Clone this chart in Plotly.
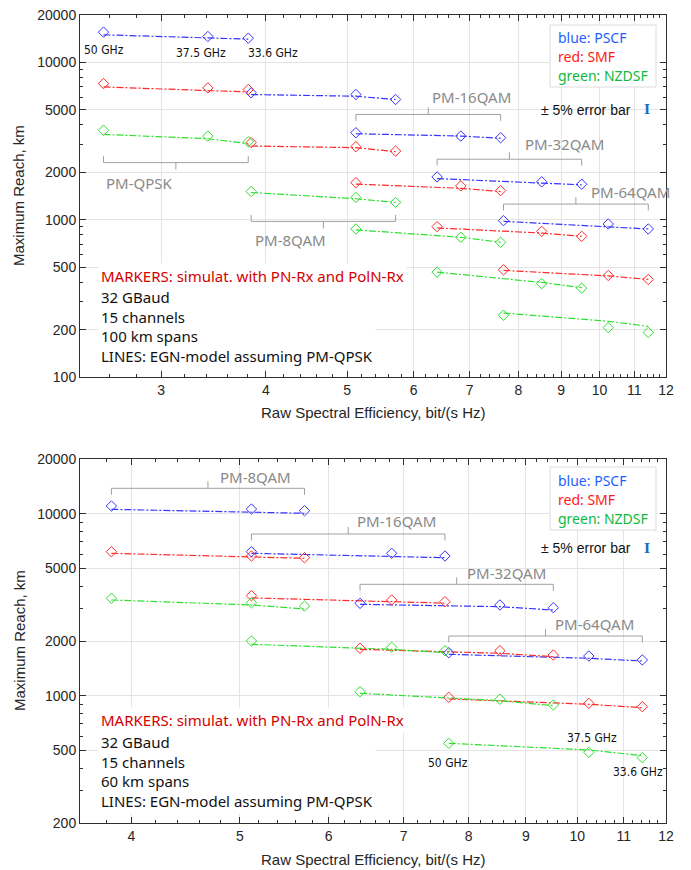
import numpy as np
import plotly.graph_objects as go

W, H = 691, 870

# ---------------- data ----------------
formats_top = ["PM-QPSK", "PM-8QAM", "PM-16QAM", "PM-32QAM", "PM-64QAM"]
formats_bot = ["PM-8QAM", "PM-16QAM", "PM-32QAM", "PM-64QAM"]

# raw spectral efficiency (bit/(s Hz)) at 50, 37.5, 33.6 GHz spacing
se_qpsk = [2.56, 3.41, 3.81]
se_8qam = [3.84, 5.12, 5.71]
se_16qam = [5.12, 6.83, 7.62]
se_32qam = [6.40, 8.53, 9.52]
se_64qam = [7.68, 10.24, 11.43]
se_by_format = {"PM-QPSK": se_qpsk, "PM-8QAM": se_8qam, "PM-16QAM": se_16qam,
                "PM-32QAM": se_32qam, "PM-64QAM": se_64qam}

# Top chart: 100 km spans (values per format, 3 spacings each), km
top_pscf_sim = [15560, 14600, 14250, 6400, 6250, 5810, 3570, 3400, 3320, 1870, 1740, 1680, 986, 939, 873]
top_smf_sim = [7330, 6880, 6720, 3090, 2910, 2730, 1720, 1640, 1530, 903, 843, 784, 480, 442, 417]
top_nzdsf_sim = [3700, 3400, 3130, 1510, 1384, 1287, 873, 773, 718, 464, 392, 367, 247, 206, 192]
top_pscf_egn = [14970, 14390, 14050, 6245, 6092, 5807, 3517, 3402, 3289, 1825, 1703, 1666, 976, 903, 873]
top_smf_egn = [6978, 6621, 6486, 2940, 2869, 2706, 1682, 1583, 1511, 886, 822, 784, 476, 439, 417]
top_nzdsf_egn = [3486, 3270, 3040, 1489, 1358, 1287, 861, 773, 718, 464, 399, 370, 255, 226, 210]

# Bottom chart: 60 km spans
bot_pscf_sim = [11036, 10624, 10400, 6190, 6066, 5862, 3221, 3154, 3048, 1725, 1654, 1573]
bot_smf_sim = [6190, 5862, 5738, 3548, 3360, 3289, 1824, 1769, 1675, 981, 909, 871]
bot_nzdsf_sim = [3433, 3246, 3113, 2000, 1847, 1769, 1053, 957, 890, 548, 489, 457]
bot_pscf_egn = [10583, 10270, 10060, 6066, 5862, 5738, 3181, 3087, 2960, 1690, 1607, 1553]
bot_smf_egn = [6066, 5813, 5692, 3450, 3290, 3230, 1800, 1712, 1640, 960, 898, 860]
bot_nzdsf_egn = [3360, 3154, 2998, 1918, 1800, 1725, 1032, 940, 882, 548, 504, 469]

x_ticks_top = [3, 4, 5, 6, 7, 8, 9, 10, 11, 12]
x_ticks_bot = [4, 5, 6, 7, 8, 9, 10, 11, 12]
y_ticks_top = [100, 200, 500, 1000, 2000, 5000, 10000, 20000]
y_ticks_bot = [200, 500, 1000, 2000, 5000, 10000, 20000]

# bracket levels (km) for modulation-format groups
bracket_top = {"PM-QPSK": (2305, 1), "PM-8QAM": (975, 1), "PM-16QAM": (4667, -1),
               "PM-32QAM": (2423, -1), "PM-64QAM": (1257, -1)}
bracket_bot = {"PM-8QAM": (13804, -1), "PM-16QAM": (7746, -1),
               "PM-32QAM": (4098, -1), "PM-64QAM": (2130, -1)}

# ---------------- styling ----------------
C_BLUE, C_RED, C_GREEN = "#3535ff", "#ff2a2a", "#2ee02e"
GRID = "#e4e4e4"
AX = "#303030"
TXT = "#262626"
FONT = "Liberation Sans, Arial, sans-serif"
FONT2 = "Noto Sans, DejaVu Sans, sans-serif"
DASH = "7px,2px,2px,2px"

def px(x):
    return x / W

def py(y):
    return 1 - y / H

fig = go.Figure()


def add_chart(fmts, sims, egns, colors, xa, ya, brackets, ppd):
    for sim, egn, col in zip(sims, egns, colors):
        for i, f in enumerate(fmts):
            xs = se_by_format[f]
            fig.add_trace(go.Scatter(x=xs, y=egn[3 * i:3 * i + 3], mode="lines",
                                     line=dict(color=col, width=1.2, dash=DASH),
                                     xaxis=xa, yaxis=ya, showlegend=False, hoverinfo="skip"))
    for sim, egn, col in zip(sims, egns, colors):
        for i, f in enumerate(fmts):
            xs = se_by_format[f]
            fig.add_trace(go.Scatter(x=xs, y=sim[3 * i:3 * i + 3], mode="markers",
                                     marker=dict(symbol="diamond-open", size=8, color=col,
                                                 line=dict(width=1, color=col)),
                                     xaxis=xa, yaxis=ya, showlegend=False))
    # grey brackets
    for f in fmts:
        xs = se_by_format[f]
        lvl, d = brackets[f]
        x0, x1 = min(xs), max(xs)
        xc = float(np.sqrt(x0 * x1))
        ft = 10 ** (d * 6.5 / ppd)
        fc = 10 ** (-d * 7 / ppd)
        fig.add_trace(go.Scatter(x=[x0, x0, x1, x1, None, xc, xc],
                                 y=[lvl * ft, lvl, lvl, lvl * ft, None, lvl, lvl * fc],
                                 mode="lines", line=dict(color="#a0a0a0", width=1),
                                 xaxis=xa, yaxis=ya, showlegend=False, hoverinfo="skip"))


add_chart(formats_top, [top_pscf_sim, top_smf_sim, top_nzdsf_sim],
          [top_pscf_egn, top_smf_egn, top_nzdsf_egn], [C_BLUE, C_RED, C_GREEN],
          "x", "y", bracket_top, 158)
add_chart(formats_bot, [bot_pscf_sim, bot_smf_sim, bot_nzdsf_sim],
          [bot_pscf_egn, bot_smf_egn, bot_nzdsf_egn], [C_BLUE, C_RED, C_GREEN],
          "x2", "y2", bracket_bot, 182)


def minor_x(lo, hi):
    vals = []
    v = lo
    while v <= hi + 1e-9:
        r = round(v, 1)
        if abs(r - round(r)) > 1e-6:
            vals.append(r)
        v += 0.2
    return vals


def minor_y(lo_dec, hi_dec):
    vals = []
    for dec in range(lo_dec, hi_dec):
        for m in [3, 4, 6, 7, 8, 9]:
            vals.append(m * 10 ** dec)
    return vals


def xaxis_cfg(rng, ticks, dom_y_anchor, minor_vals):
    return dict(type="log", range=[np.log10(rng[0]), np.log10(rng[1])],
                domain=[80 / W, 666 / W], anchor=dom_y_anchor, automargin=False,
                tickmode="array", tickvals=ticks, ticktext=[str(t) for t in ticks],
                ticks="inside", ticklen=6, tickwidth=1, tickcolor=AX,
                showline=True, linecolor=AX, linewidth=1, mirror="allticks",
                showgrid=True, gridcolor=GRID, gridwidth=1, zeroline=False,
                tickfont=dict(family=FONT, size=14, color=TXT),
                minor=dict(tickmode="array", tickvals=minor_vals, ticks="inside",
                           ticklen=3, tickcolor=AX, showgrid=False))


def yaxis_cfg(rng, ticks, dom, anchor, minor_vals):
    return dict(type="log", range=[np.log10(rng[0]), np.log10(rng[1])],
                domain=dom, anchor=anchor, automargin=False,
                tickmode="array", tickvals=ticks, ticktext=[str(t) for t in ticks],
                ticks="inside", ticklen=6, tickwidth=1, tickcolor=AX,
                showline=True, linecolor=AX, linewidth=1, mirror="allticks",
                showgrid=True, gridcolor=GRID, gridwidth=1, zeroline=False,
                tickfont=dict(family=FONT, size=14, color=TXT),
                minor=dict(tickmode="array", tickvals=minor_vals, ticks="inside",
                           ticklen=3, tickcolor=AX, showgrid=False))


fig.update_layout(
    width=W, height=H, margin=dict(l=0, r=0, t=0, b=0),
    paper_bgcolor="white", plot_bgcolor="white", showlegend=False,
    xaxis=xaxis_cfg((2.4, 12), x_ticks_top, "y", minor_x(2.4, 12)),
    yaxis=yaxis_cfg((100, 20000), y_ticks_top, [1 - 377 / H, 1 - 15 / H], "x", minor_y(2, 5)),
    xaxis2=xaxis_cfg((3.6, 12), x_ticks_bot, "y2", minor_x(3.6, 12)),
    yaxis2=yaxis_cfg((200, 20000), y_ticks_bot, [1 - 823 / H, 1 - 459 / H], "x2", minor_y(2, 5)),
)

ann = []


def text(x, y, s, size=14, color=TXT, family=FONT2, xanchor="left", yanchor="middle", **kw):
    ann.append(dict(x=px(x), y=py(y), xref="paper", yref="paper", text=s, showarrow=False,
                    xanchor=xanchor, yanchor=yanchor, font=dict(size=size, color=color, family=family), **kw))


# axis titles
for yc, xt in [(196, 412), (641, 859)]:
    text(19, yc, "Maximum Reach, km", size=15, family=FONT, xanchor="center", textangle=-90)
    text(373, xt, "Raw Spectral Efficiency, bit/(s Hz)", size=15, family=FONT, xanchor="center")

# legend boxes
shapes = []
for (y0, y1), (yb, yr, yg), ye in [((25, 87), (37, 56, 75), 110), ((467, 530), (480, 499, 518), 548)]:
    shapes.append(dict(type="rect", xref="paper", yref="paper", x0=px(550), x1=px(656),
                       y0=py(y1), y1=py(y0), line=dict(color="#dcdcdc", width=1), fillcolor="white",
                       layer="above"))
    text(556, yb, "blue: PSCF", size=14, color="#1f5fff")
    text(556, yr, "red: SMF", size=14, color="#ff1a1a")
    text(556, yg, "green: NZDSF", size=14, color="#10b840")
    text(539, ye, "± 5% error bar", size=14, family=FONT, color="#111111")
    text(647, ye, "<b>I</b>", size=13, family="DejaVu Serif", color="#1a6fc0", xanchor="center")

# info text blocks
for ym, yb, spans in [(276, 326.5, "100 km spans"), (720, 771, "60 km spans")]:
    text(98, ym, "MARKERS: simulat. with PN-Rx and PolN-Rx", size=15, color="#d40000",
         bgcolor="white", borderpad=2)
    text(98, yb, "32 GBaud<br>15 channels<br>" + spans + "<br>LINES: EGN-model assuming PM-QPSK",
         size=15, color="#111111", bgcolor="white", borderpad=2, align="left")

# format labels
labels_top = [("PM-QPSK", 139, 183), ("PM-8QAM", 290, 240), ("PM-16QAM", 471, 96.7),
              ("PM-32QAM", 564, 144), ("PM-64QAM", 630, 191.7)]
labels_bot = [("PM-8QAM", 256, 476.7), ("PM-16QAM", 396, 520.7), ("PM-32QAM", 506, 572.7),
              ("PM-64QAM", 594, 624)]
for s, x, y in labels_top + labels_bot:
    text(x, y, s, size=15, color="#8a8a8a", xanchor="center")

# channel spacing labels
for s, x, y in [("50 GHz", 82, 50), ("37.5 GHz", 174, 53), ("33.6 GHz", 246, 53),
                ("50 GHz", 426, 763), ("37.5 GHz", 565, 738), ("33.6 GHz", 611, 772)]:
    text(x, y, s, size=12, color="#111111", family="DejaVu Sans Condensed, DejaVu Sans")

fig.update_layout(annotations=ann, shapes=shapes)
fig.write_html("out.html", config={"displayModeBar": False},
               post_script="document.body.style.margin='0px';document.body.style.padding='0px';")
